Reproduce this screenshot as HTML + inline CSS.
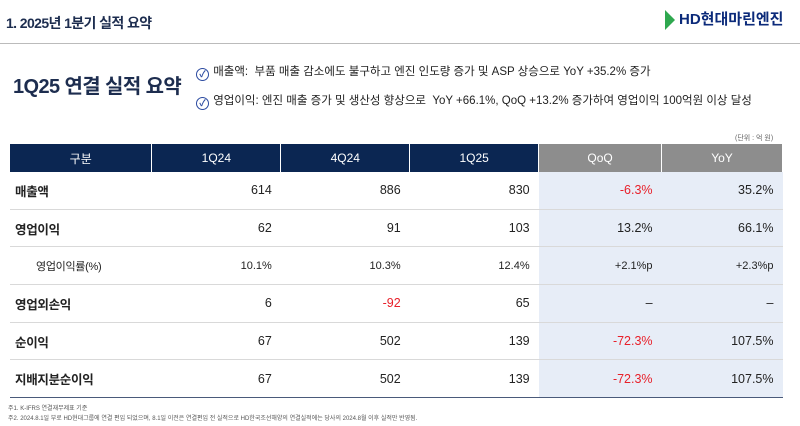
<!DOCTYPE html>
<html><head><meta charset="utf-8"><style>
body{margin:0;width:800px;height:426px;background:#fff;font-family:"Liberation Sans","Noto Sans CJK KR",sans-serif;position:relative;overflow:hidden;color:#222}
.abs{position:absolute}
table{position:absolute;left:10px;top:144px;border-collapse:collapse;width:773px;font-size:12.5px}
td,th{padding:0;height:36.7px}
th{height:28px;color:#fff;font-weight:normal;font-size:12px;border-right:1px solid #fff;background:#0b2652}
th.g{background:#8d8d8d}
td{text-align:right;padding-right:9px;border-bottom:1px solid #d9d9d9}
td.l{text-align:left;padding-left:5px;font-weight:bold;font-size:12.5px;letter-spacing:-0.3px}
td.b{background:#e7edf7}
tr.sub td{font-size:11px}
tr.sub td.l{font-weight:normal;padding-left:26px}
tr.nob td{border-bottom:none}
.r{color:#e8202a}
tr.last td{border-bottom:1.5px solid #4a5a7a}
.chk{display:inline-block;width:11px;height:11px;border:1.5px solid #2b4aa0;border-radius:50%;text-align:center;font-size:9px;line-height:11px;color:#2b4aa0;font-weight:bold;vertical-align:-2px;margin-right:1px}
</style></head><body>
<div class="abs" style="left:6px;top:13px;font-size:14px;font-weight:bold;color:#1d2d4f;letter-spacing:-0.6px">1. 2025년 1분기 실적 요약</div>
<div class="abs" style="left:665px;top:8px;font-size:15px;font-weight:bold;color:#0b2a7a;white-space:nowrap"><span style="display:inline-block;width:0;height:0;border-top:10px solid transparent;border-bottom:10px solid transparent;border-left:10px solid #2fa84f;vertical-align:middle;margin-right:4px"></span>HD현대마린엔진</div>
<div class="abs" style="left:0;top:43px;width:800px;height:1px;background:#bbb"></div>
<div class="abs" style="left:13px;top:70px;font-size:20px;font-weight:bold;color:#1d2d4f;letter-spacing:-0.6px">1Q25 연결 실적 요약</div>
<div class="abs" style="left:196px;top:63px;font-size:11.5px;white-space:nowrap"><span class="chk">✓</span> 매출액:&nbsp; 부품 매출 감소에도 불구하고 엔진 인도량 증가 및 ASP 상승으로 YoY +35.2% 증가</div>
<div class="abs" style="left:196px;top:92px;font-size:11.5px;white-space:nowrap"><span class="chk">✓</span> 영업이익: 엔진 매출 증가 및 생산성 향상으로&nbsp; YoY +66.1%, QoQ +13.2% 증가하여 영업이익 100억원 이상 달성</div>
<div class="abs" style="left:735px;top:133px;font-size:7px;color:#666">(단위 : 억 원)</div>
<table>
<colgroup><col style="width:142px"><col style="width:129px"><col style="width:129px"><col style="width:129px"><col style="width:123px"><col style="width:121px"></colgroup>
<tr><th>구분</th><th>1Q24</th><th>4Q24</th><th>1Q25</th><th class="g">QoQ</th><th class="g">YoY</th></tr>
<tr><td class="l">매출액</td><td>614</td><td>886</td><td>830</td><td class="b r">-6.3%</td><td class="b">35.2%</td></tr>
<tr class="nob"><td class="l">영업이익</td><td>62</td><td>91</td><td>103</td><td class="b">13.2%</td><td class="b">66.1%</td></tr>
<tr class="sub"><td class="l" style="border-top:1px solid #d9d9d9">영업이익률(%)</td><td style="border-top:1px solid #d9d9d9">10.1%</td><td style="border-top:1px solid #d9d9d9">10.3%</td><td style="border-top:1px solid #d9d9d9">12.4%</td><td class="b" style="border-top:1px solid #d9d9d9">+2.1%p</td><td class="b" style="border-top:1px solid #d9d9d9">+2.3%p</td></tr>
<tr><td class="l">영업외손익</td><td>6</td><td class="r">-92</td><td>65</td><td class="b">–</td><td class="b">–</td></tr>
<tr><td class="l">순이익</td><td>67</td><td>502</td><td>139</td><td class="b r">-72.3%</td><td class="b">107.5%</td></tr>
<tr class="last"><td class="l">지배지분순이익</td><td>67</td><td>502</td><td>139</td><td class="b r">-72.3%</td><td class="b">107.5%</td></tr>
</table>
<div class="abs" style="left:8px;top:403px;font-size:6px;color:#555">주1. K-IFRS 연결재무제표 기준</div>
<div class="abs" style="left:8px;top:413px;font-size:6px;color:#555;white-space:nowrap">주2. 2024.8.1일 부로 HD현대그룹에 연결 편입 되었으며, 8.1일 이전은 연결편입 전 실적으로 HD한국조선해양의 연결실적에는 당사의 2024.8월 이후 실적만 반영됨.</div>
</body></html>
